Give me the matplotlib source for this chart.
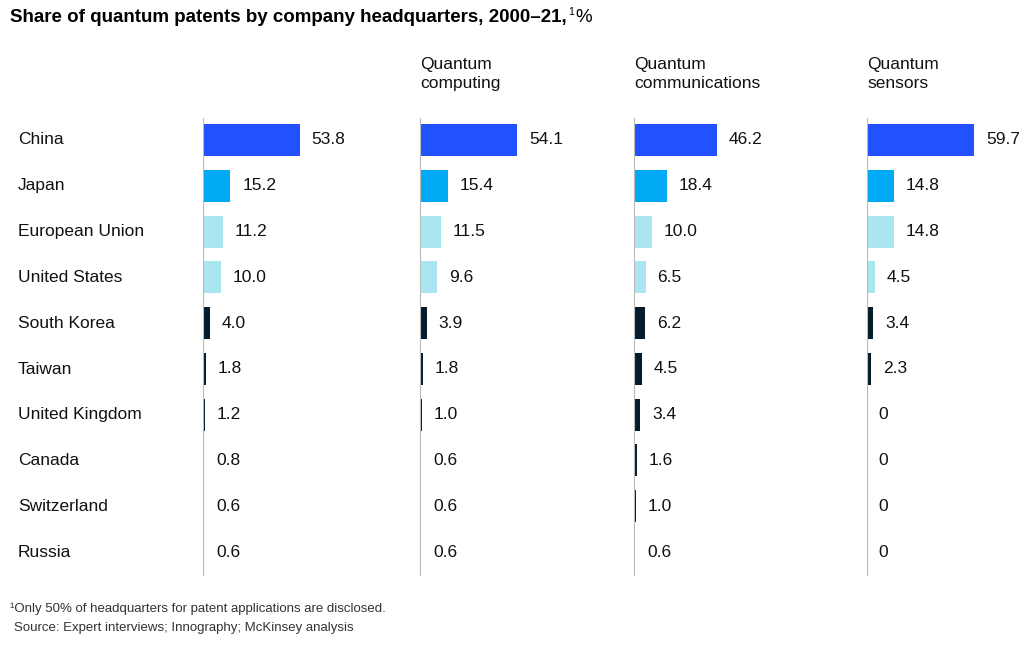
import matplotlib.pyplot as plt
from matplotlib.transforms import offset_copy

countries = ["China", "Japan", "European Union", "United States", "South Korea",
             "Taiwan", "United Kingdom", "Canada", "Switzerland", "Russia"]
total = [53.8, 15.2, 11.2, 10.0, 4.0, 1.8, 1.2, 0.8, 0.6, 0.6]
computing = [54.1, 15.4, 11.5, 9.6, 3.9, 1.8, 1.0, 0.6, 0.6, 0.6]
communications = [46.2, 18.4, 10.0, 6.5, 6.2, 4.5, 3.4, 1.6, 1.0, 0.6]
sensors = [59.7, 14.8, 14.8, 4.5, 3.4, 2.3, 0, 0, 0, 0]
headers = ["", "Quantum\ncomputing", "Quantum\ncommunications", "Quantum\nsensors"]

colors = ["#2251FF", "#00A9F4", "#AAE6F0", "#AAE6F0"] + ["#051C2C"] * 6

plt.rcParams['font.family'] = ['Liberation Sans', 'DejaVu Sans']
W, H = 1029, 650
fig = plt.figure(figsize=(W / 100, H / 100), dpi=100)

title = fig.text(10 / W, 1 - 18 / H, "Share of quantum patents by company headquarters, 2000\u201321,",
                 fontsize=13.5, fontweight='bold', va='center', color='#000000')
fig.canvas.draw()
bb = title.get_window_extent(fig.canvas.get_renderer())
x_end = bb.x1 / W
fig.text(x_end + 1 / W, 1 - 12 / H, "1", fontsize=7.5, va='center')
fig.text(x_end + 9 / W, 1 - 18 / H, "%", fontsize=13.5, va='center')

top, bottom = 118, 575
for i, c in enumerate(countries):
    y = 140 + i * 45.8
    fig.text(18 / W, 1 - y / H, c, fontsize=12.5, va='center', color='#111111')

lefts = [203, 420, 634, 867]
for left, vals, hdr in zip(lefts, [total, computing, communications, sensors], headers):
    ax = fig.add_axes([left / W, 1 - bottom / H, 180 / W, (bottom - top) / H])
    ypos = list(range(len(vals)))
    ax.barh(ypos, vals, height=0.7, color=colors)
    ax.set_xlim(0, 100)
    ax.set_ylim(9 + (575 - 552) / 45.8, -(140 - 118) / 45.8)
    tr = offset_copy(ax.transData, fig=fig, x=8.5, y=0, units='points')
    for y, v in zip(ypos, vals):
        ax.text(v, y, f"{v:.1f}" if v else "0", transform=tr,
                va='center', ha='left', fontsize=12.5, color='#111111')
    for s in ["top", "right", "bottom"]:
        ax.spines[s].set_visible(False)
    ax.spines["left"].set_color("#BBBBBB")
    ax.set_xticks([])
    ax.set_yticks([])
    if hdr:
        fig.text(left / W, 1 - 74 / H, hdr, fontsize=12.5, va='center', ha='left',
                 color='#111111', linespacing=1.35)

fig.text(10 / W, 1 - 609 / H, "\u00b9Only 50% of headquarters for patent applications are disclosed.",
         fontsize=9.5, va='center', color='#333333')
fig.text(14 / W, 1 - 628 / H, "Source: Expert interviews; Innography; McKinsey analysis",
         fontsize=9.5, va='center', color='#333333')

fig.savefig("out.png", dpi=100)
